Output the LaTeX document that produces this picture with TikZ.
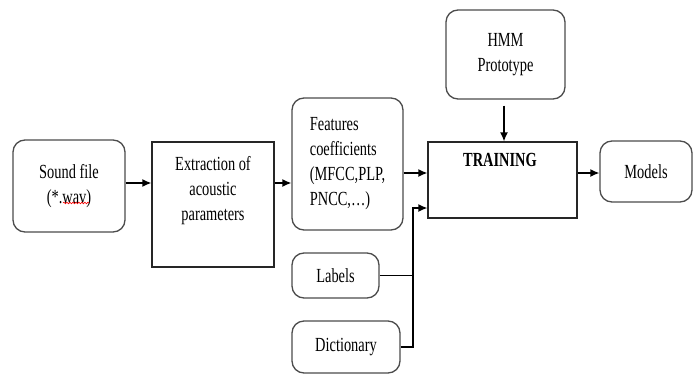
\documentclass[tikz,border=0pt]{standalone}
\usepackage{fontspec}
\setmainfont{Liberation Serif}[FakeStretch=0.72]
\usetikzlibrary{arrows.meta,decorations.pathmorphing}

\begin{document}
\begin{tikzpicture}[x=1pt, y=-1pt,
    font=\fontsize{20}{25}\selectfont,
    rbox/.style={draw=black!70, line width=1.3pt, rounded corners=12pt, align=center},
    sbox/.style={draw=black!85, line width=1.3pt},
    arr/.style={-{Latex[length=9pt,width=8pt]}, line width=1.3pt},
    ln/.style={line width=1.3pt}]
    \useasboundingbox (0,0) rectangle (699,375);
    \node (sound) [rbox, minimum width=112, minimum height=92] at (69,186) {Sound file\\(*.wav)};
    \node (extract) [sbox, minimum width=122, minimum height=125] at (213,204.5) {};
    \node (extracttext) [align=center] at (213,191) {Extraction of\\acoustic\\parameters};
    \node (features) [rbox, align=left, minimum width=111, minimum height=132] at (347.5,164) {Features\\coefficients\\(MFCC,PLP,\\PNCC,\ldots)};
    \node (hmm) [rbox, minimum width=119, minimum height=89] at (505.5,54.5) {HMM\\Prototype};
    \node (training) [sbox, minimum width=149, minimum height=76] at (502.5,180) {};
    \node (trainingtext) [font=\fontsize{20}{25}\selectfont\bfseries] at (500,160) {TRAINING};
    \node (models) [rbox, minimum width=92, minimum height=61] at (646,171.5) {Models};
    \node (labels) [rbox, minimum width=87, minimum height=45] at (335.5,275.5) {Labels};
    \node (dict) [rbox, minimum width=108, minimum height=52] at (346,347) {Dictionary};
    \coordinate (bus) at (413,208);
    \draw [arr] (sound.east |- 0,183) to (extract.west |- 0,183);
    \draw [arr] (extract.east |- 0,183) to (features.west |- 0,183);
    \draw [arr] (features.east |- 0,173) to (training.west |- 0,173);
    \draw [arr] (training.east |- 0,173) to (models.west |- 0,173);
    \draw [arr, shorten <=6pt] (hmm.south -| 504,0) to (training.north -| 504,0);
    \draw [ln] (labels.east) -- (labels.east -| bus);
    \draw [arr] (dict.east) -| (bus) -- (training.west |- bus);
    \draw [red, line width=0.6pt, decorate, decoration={snake, amplitude=0.8pt, segment length=3pt}] (63,203) -- (89,203);
\end{tikzpicture}
\end{document}
